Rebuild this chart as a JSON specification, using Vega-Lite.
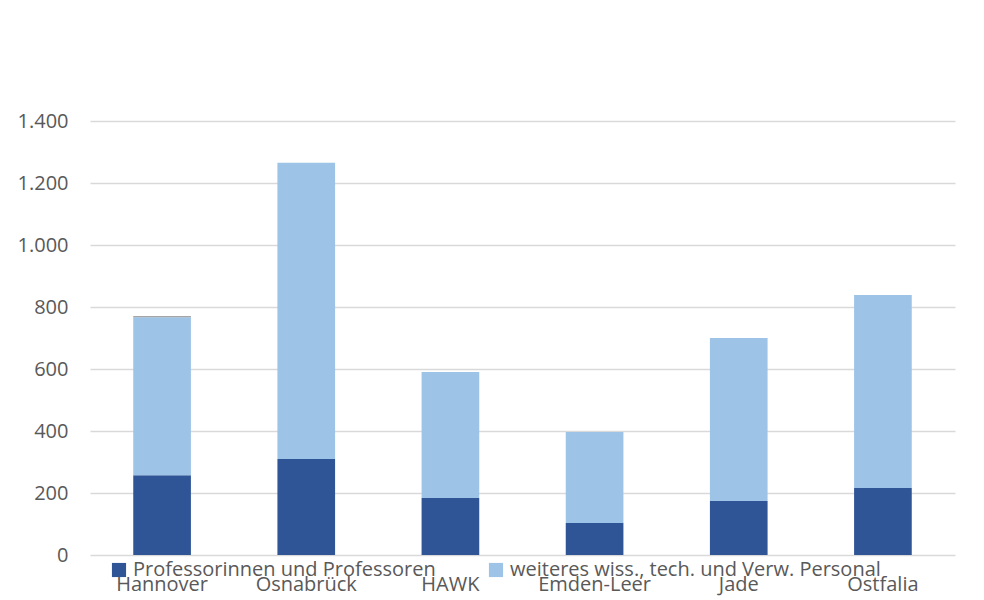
{
  "$schema": "https://vega.github.io/schema/vega-lite/v6.json",
  "autosize": "none",
  "width": 865,
  "height": 434,
  "padding": {"left": 90, "top": 121, "right": 29, "bottom": 45},
  "background": "white",
  "config": {
    "view": {"stroke": null},
    "font": "Open Sans",
    "axis": {"labelFont": "Open Sans", "labelColor": "#595959", "labelFontSize": 20}
  },
  "data": {
    "values": [
      {"hochschule": "Hannover", "gruppe": "Professorinnen und Professoren", "wert": 257},
      {"hochschule": "Hannover", "gruppe": "weiteres wiss., tech. und Verw. Personal", "wert": 510},
      {"hochschule": "Hannover", "gruppe": "zusätzlich", "wert": 4},
      {"hochschule": "Osnabrück", "gruppe": "Professorinnen und Professoren", "wert": 310},
      {"hochschule": "Osnabrück", "gruppe": "weiteres wiss., tech. und Verw. Personal", "wert": 955},
      {"hochschule": "HAWK", "gruppe": "Professorinnen und Professoren", "wert": 184},
      {"hochschule": "HAWK", "gruppe": "weiteres wiss., tech. und Verw. Personal", "wert": 406},
      {"hochschule": "Emden-Leer", "gruppe": "Professorinnen und Professoren", "wert": 103},
      {"hochschule": "Emden-Leer", "gruppe": "weiteres wiss., tech. und Verw. Personal", "wert": 294},
      {"hochschule": "Jade", "gruppe": "Professorinnen und Professoren", "wert": 174},
      {"hochschule": "Jade", "gruppe": "weiteres wiss., tech. und Verw. Personal", "wert": 526},
      {"hochschule": "Ostfalia", "gruppe": "Professorinnen und Professoren", "wert": 216},
      {"hochschule": "Ostfalia", "gruppe": "weiteres wiss., tech. und Verw. Personal", "wert": 623}
    ]
  },
  "mark": {"type": "bar"},
  "encoding": {
    "x": {
      "field": "hochschule",
      "type": "nominal",
      "sort": ["Hannover", "Osnabrück", "HAWK", "Emden-Leer", "Jade", "Ostfalia"],
      "scale": {"paddingInner": 0.6, "paddingOuter": 0.3},
      "axis": {"title": null, "labelAngle": 0, "domain": false, "ticks": false, "labelPadding": 19}
    },
    "y": {
      "field": "wert",
      "type": "quantitative",
      "stack": "zero",
      "scale": {"domain": [0, 1400], "nice": false},
      "axis": {
        "title": null,
        "values": [0, 200, 400, 600, 800, 1000, 1200, 1400],
        "labelExpr": "replace(format(datum.value, ','), ',', '.')",
        "domain": false,
        "ticks": false,
        "labelPadding": 22,
        "gridColor": "#D9D9D9",
        "gridWidth": 1.5
      }
    },
    "order": {"field": "gruppe", "sort": "ascending"},
    "color": {
      "field": "gruppe",
      "type": "nominal",
      "scale": {
        "domain": ["Professorinnen und Professoren", "weiteres wiss., tech. und Verw. Personal", "zusätzlich"],
        "range": ["#2F5597", "#9DC3E6", "#A5A5A5"]
      },
      "legend": {
        "title": null,
        "values": ["Professorinnen und Professoren", "weiteres wiss., tech. und Verw. Personal"],
        "orient": "none",
        "legendX": 19,
        "legendY": 439,
        "direction": "horizontal",
        "symbolType": "square",
        "symbolSize": 200,
        "symbolStrokeWidth": 0,
        "labelFont": "Open Sans",
        "labelFontSize": 20,
        "labelColor": "#595959",
        "labelLimit": 600,
        "columnPadding": 50,
        "labelOffset": 4
      }
    }
  }
}
